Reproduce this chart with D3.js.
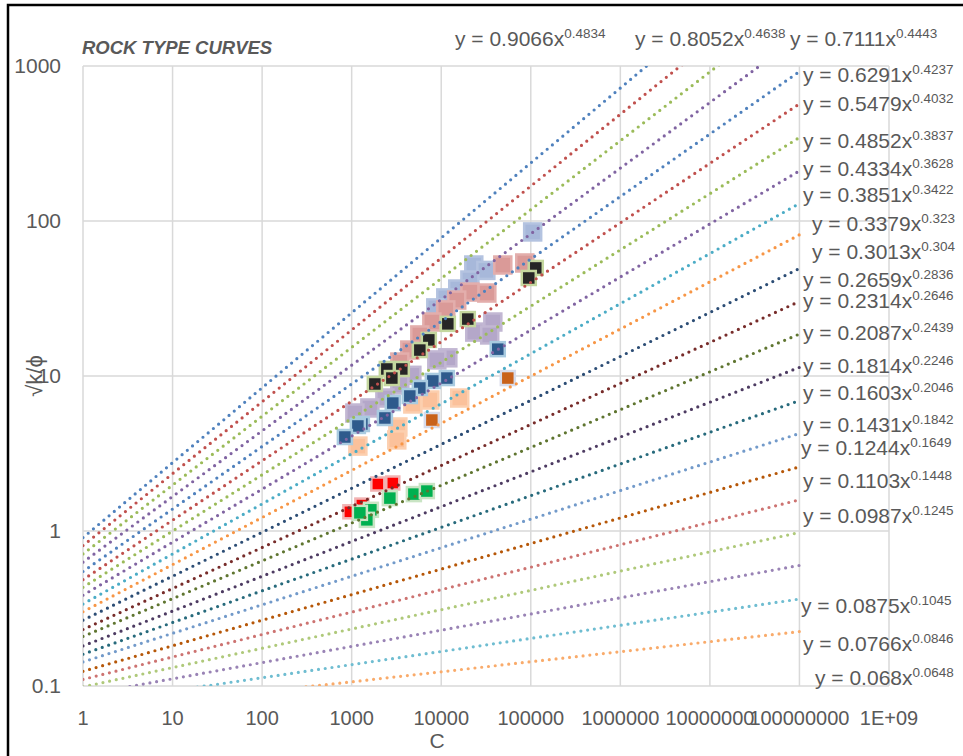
<!DOCTYPE html>
<html>
<head>
<meta charset="utf-8">
<script src="https://cdn.jsdelivr.net/npm/d3@7"></script>
<style>
  body { margin: 0; background: #fff; }
  svg { display: block; font-family: "Liberation Sans", Arial, sans-serif; }
</style>
</head>
<body>
<svg id="chart" width="963" height="756"></svg>
<script>
// trendline equations y = a * x^b (top to bottom)
const coefA = [0.9066, 0.8052, 0.7111, 0.6291, 0.5479, 0.4852, 0.4334, 0.3851, 0.3379, 0.3013, 0.2659,
               0.2314, 0.2087, 0.1814, 0.1603, 0.1431, 0.1244, 0.1103, 0.0987, 0.0875, 0.0766, 0.068];
const expB = [0.4834, 0.4638, 0.4443, 0.4237, 0.4032, 0.3837, 0.3628, 0.3422, 0.323, 0.304, 0.2836,
              0.2646, 0.2439, 0.2246, 0.2046, 0.1842, 0.1649, 0.1448, 0.1245, 0.1045, 0.0846, 0.0648];
const coefLabels = ['0.9066', '0.8052', '0.7111', '0.6291', '0.5479', '0.4852', '0.4334', '0.3851', '0.3379', '0.3013', '0.2659',
                    '0.2314', '0.2087', '0.1814', '0.1603', '0.1431', '0.1244', '0.1103', '0.0987', '0.0875', '0.0766', '0.068'];
const expLabels = ['0.4834', '0.4638', '0.4443', '0.4237', '0.4032', '0.3837', '0.3628', '0.3422', '0.323', '0.304', '0.2836',
                   '0.2646', '0.2439', '0.2246', '0.2046', '0.1842', '0.1649', '0.1448', '0.1245', '0.1045', '0.0846', '0.0648'];
const trendRange = [1, 1e8];

// measured points [C, sqrt(k/phi)]
const rtSteel = [[105000, 85], [23100, 52], [31500, 48], [20900, 41.6], [15300, 36.4], [11250, 31.9], [8700, 27.5]];
const rtPink = [[48700, 52], [85700, 53.6], [32300, 34.3], [20900, 34.8], [14900, 30.9], [11250, 26.7],
                [7860, 22.3], [5770, 18.4], [4460, 14.7], [3450, 12.3], [3035, 10.6]];
const rtLavender = [[37700, 22.3], [23700, 19.2], [34800, 18.4], [11850, 13.1], [8930, 12.7], [4700, 10.1],
                    [3450, 8.75], [2350, 7.21], [1597, 6.22], [1086, 5.77]];
const rtPeach = [[16100, 7.21], [7460, 7.0], [4820, 6.6], [3280, 4.69], [3190, 3.87], [1173, 3.53]];
const rtNavy = [[42800, 14.9], [11550, 9.7], [8060, 9.29], [5770, 8.37], [4460, 7.43], [2880, 6.69],
                [2350, 5.36], [1300, 4.9], [1173, 4.76], [840, 4.04]];
const rtBlack = [[113700, 49.8], [95000, 42.9], [19800, 23.3], [11850, 21.7], [7270, 17.1], [5770, 14.7],
                 [3630, 11.1], [2470, 11.1], [2810, 9.7], [1815, 8.88]];
const rtOrange = [[55400, 9.7], [7860, 5.2]];
const rtRed = [[1960, 2.01], [2880, 2.04], [1300, 1.47], [955, 1.33]];
const rtGreen = [[2670, 1.63], [4950, 1.73], [6910, 1.81], [1638, 1.37], [1478, 1.18], [1235, 1.31]];

const xTicks = [1, 10, 100, 1000, 1e4, 1e5, 1e6, 1e7, 1e8, 1e9];
const xTickLabels = ['1', '10', '100', '1000', '10000', '100000', '1000000', '10000000', '100000000', '1E+09'];
const yTicks = [0.1, 1, 10, 100, 1000];
const yTickLabels = ['0.1', '1', '10', '100', '1000'];

const lineColors = ['#4F81BD', '#C0504D', '#9BBB59', '#8064A2', '#4F81BD', '#C0504D', '#9BBB59', '#8064A2',
                    '#4BACC6', '#F79646', '#2C4D75', '#772C2A', '#5F7530', '#4D3B62', '#276A7C', '#729ACA',
                    '#B65708', '#CD7371', '#AFC97A', '#9983B5', '#6FBDD1', '#F9AB6B'];

// where Excel left the equation labels
const labelPos = [[455, 46], [635, 46], [790, 46], [803, 82], [803, 111], [803, 148], [803, 176], [803, 202],
                  [812, 231], [812, 259], [803, 287], [803, 308], [803, 340], [803, 373], [803, 400], [803, 432],
                  [801, 455], [803, 488], [803, 523], [801, 613], [803, 651], [815, 685]];

const series = [
    { data: rtSteel, fill: '#A7B8DA', stroke: '#B4C3E0', size: 17 },
    { data: rtPink, fill: '#DA9A98', stroke: '#E3AEAC', size: 17 },
    { data: rtLavender, fill: '#B4A7C9', stroke: '#C2B7D3', size: 17 },
    { data: rtPeach, fill: '#FBC19B', stroke: '#FCCFAF', size: 17 },
    { data: rtNavy, fill: '#2E5A8C', stroke: '#A9CBE0', size: 14 },
    { data: rtBlack, fill: '#262626', stroke: '#C4D79E', size: 14 },
    { data: rtOrange, fill: '#C9621A', stroke: '#D8DCEB', size: 14 },
    { data: rtRed, fill: '#FF0000', stroke: '#F1B3B3', size: 13 },
    { data: rtGreen, fill: '#00B050', stroke: '#C9E4C4', size: 14 }
];

const plot = { left: 83, right: 889, top: 66, bottom: 686 };
const textColor = '#595959';

const svg = d3.select('#chart');

const x = d3.scaleLog().domain([1, 1e9]).range([plot.left, plot.right]);
const y = d3.scaleLog().domain([0.1, 1000]).range([plot.bottom, plot.top]);

// outer frame (only top and left edges are in view)
svg.append('path')
    .attr('d', 'M8,760 L8,5 L970,5')
    .attr('fill', 'none')
    .attr('stroke', '#000')
    .attr('stroke-width', 2.5);

// gridlines
const grid = svg.append('g');
grid.selectAll('line.vx')
    .data(xTicks)
    .join('line')
    .attr('x1', d => x(d)).attr('x2', d => x(d))
    .attr('y1', plot.top).attr('y2', plot.bottom)
    .attr('stroke', '#D9D9D9')
    .attr('stroke-width', 1.5);
grid.selectAll('line.hy')
    .data(yTicks)
    .join('line')
    .attr('x1', plot.left).attr('x2', plot.right)
    .attr('y1', d => y(d)).attr('y2', d => y(d))
    .attr('stroke', '#D9D9D9')
    .attr('stroke-width', 1.5);

// tick labels
svg.append('g')
    .selectAll('text')
    .data(xTicks)
    .join('text')
    .attr('x', d => x(d))
    .attr('y', 725)
    .attr('text-anchor', 'middle')
    .attr('font-size', 20)
    .attr('fill', textColor)
    .text((d, i) => xTickLabels[i]);

svg.append('g')
    .selectAll('text')
    .data(yTicks)
    .join('text')
    .attr('x', 61)
    .attr('y', d => y(d) + 7)
    .attr('text-anchor', 'end')
    .attr('font-size', 21)
    .attr('fill', textColor)
    .text((d, i) => yTickLabels[i]);

// axis titles
svg.append('text')
    .attr('x', 437)
    .attr('y', 748)
    .attr('text-anchor', 'middle')
    .attr('font-size', 21)
    .attr('fill', textColor)
    .text('C');

svg.append('text')
    .attr('transform', 'translate(42,376) rotate(-90)')
    .attr('text-anchor', 'middle')
    .attr('font-size', 22)
    .attr('fill', textColor)
    .text('√k/ϕ');

svg.append('text')
    .attr('x', 82)
    .attr('y', 54)
    .attr('font-size', 18.5)
    .attr('font-weight', 'bold')
    .attr('font-style', 'italic')
    .attr('fill', textColor)
    .text('ROCK TYPE CURVES');

// clip for the plot area
svg.append('clipPath')
    .attr('id', 'plot-clip')
    .append('rect')
    .attr('x', plot.left).attr('y', plot.top)
    .attr('width', plot.right - plot.left)
    .attr('height', plot.bottom - plot.top);

// markers
const markers = svg.append('g').attr('clip-path', 'url(#plot-clip)');
series.forEach(s => {
    markers.append('g')
        .selectAll('rect')
        .data(s.data)
        .join('rect')
        .attr('x', d => x(d[0]) - s.size / 2)
        .attr('y', d => y(d[1]) - s.size / 2)
        .attr('width', s.size)
        .attr('height', s.size)
        .attr('fill', s.fill)
        .attr('stroke', s.stroke)
        .attr('stroke-width', 2.5);
});

// dotted power trendlines
const trend = svg.append('g').attr('clip-path', 'url(#plot-clip)');
const line = d3.line().x(d => x(d[0])).y(d => y(d[1]));
coefA.forEach((a, i) => {
    const pts = trendRange.map(c => [c, a * Math.pow(c, expB[i])]);
    trend.append('path')
        .attr('d', line(pts))
        .attr('fill', 'none')
        .attr('stroke', lineColors[i])
        .attr('stroke-width', 3.2)
        .attr('stroke-linecap', 'round')
        .attr('stroke-dasharray', '0 6.8');
});

// equation labels
const eq = svg.append('g')
    .selectAll('text')
    .data(coefLabels)
    .join('text')
    .attr('x', (d, i) => labelPos[i][0])
    .attr('y', (d, i) => labelPos[i][1])
    .attr('font-size', 21)
    .attr('fill', textColor);
eq.append('tspan').text(d => 'y = ' + d + 'x');
eq.append('tspan')
    .attr('font-size', 13.5)
    .attr('dy', -8)
    .text((d, i) => expLabels[i]);
</script>
</body>
</html>
